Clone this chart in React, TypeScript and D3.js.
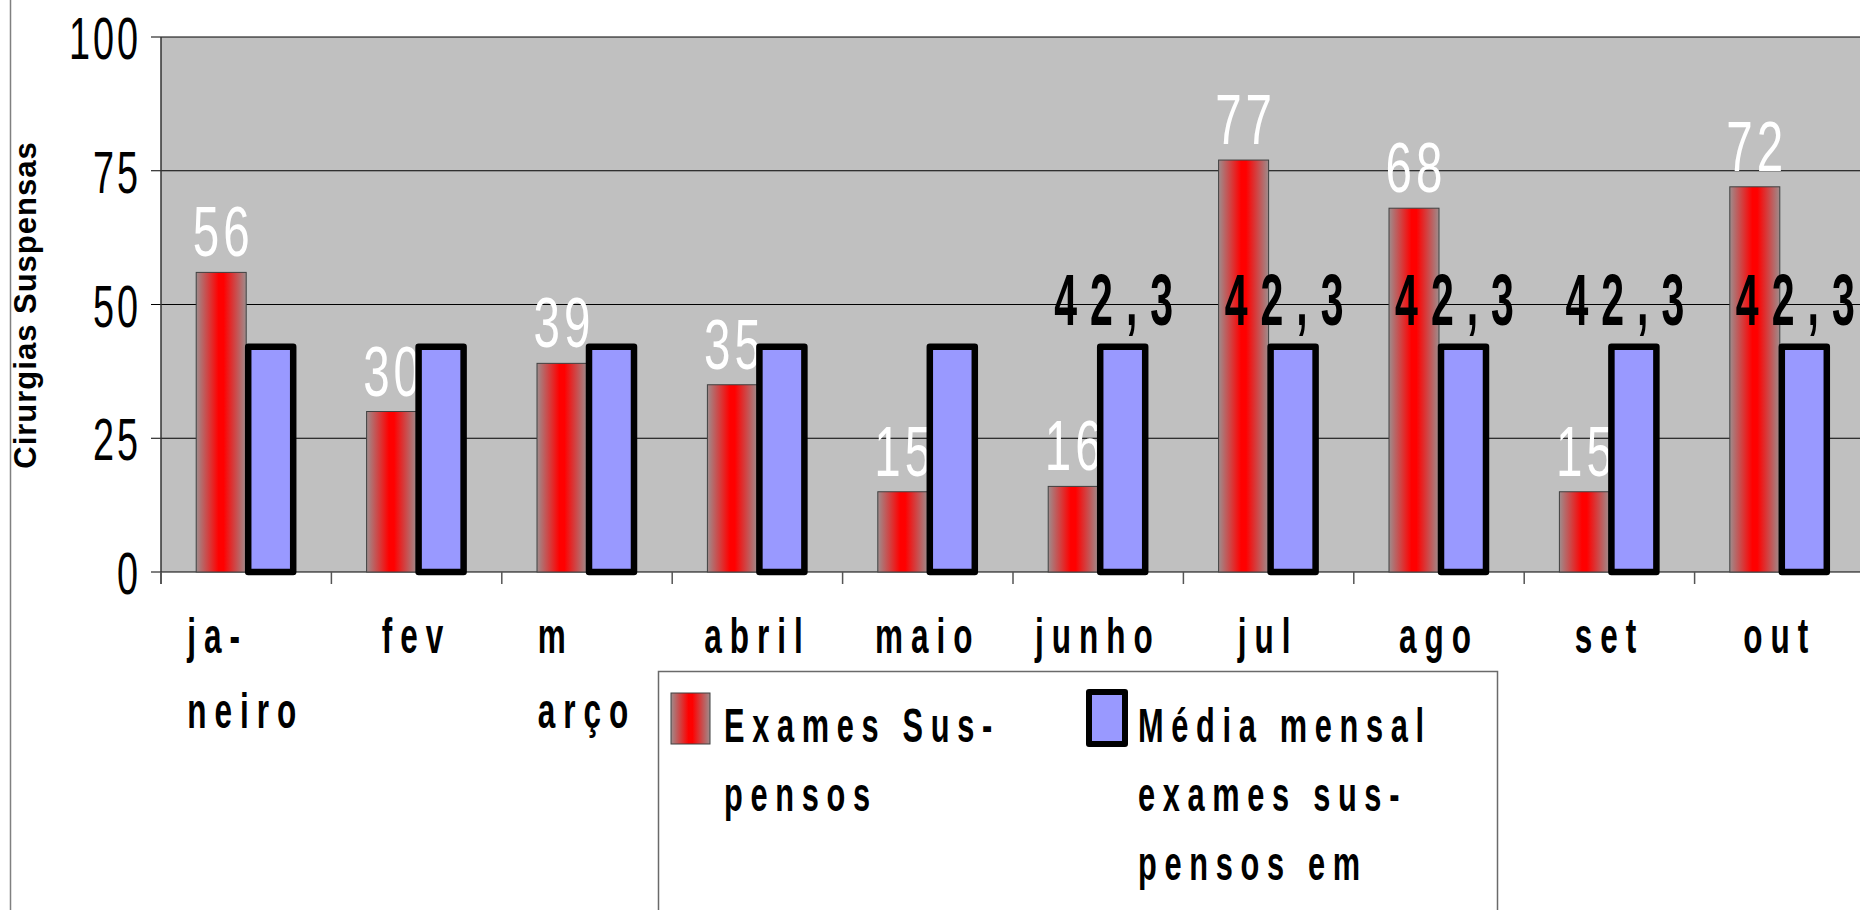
import { useLayoutEffect, useRef, useState } from "react";
import * as d3 from "d3";

const W = 1860;
const H = 910;
const PLOT = { left: 161, top: 37, bottom: 572, band: 170.4 };

// data
const months = ["jan", "fev", "mar", "abr", "mai", "jun", "jul", "ago", "set", "out"];
const monthLines = [["ja-", "neiro"], ["fev"], ["m", "arço"], ["abril"], ["maio"], ["junho"], ["jul"], ["ago"], ["set"], ["out"]];
const examesSuspensos = [56, 30, 39, 35, 15, 16, 77, 68, 15, 72];
const mediaMensal = [42.3, 42.3, 42.3, 42.3, 42.3, 42.3, 42.3, 42.3, 42.3, 42.3];
const mediaLabels = ["", "", "", "", "", "42,3", "42,3", "42,3", "42,3", "42,3"];
const yTicks = [0, 25, 50, 75, 100];
const seriesNames = ["Exames Suspensos", "Média mensal"];
const legendRed = ["Exames Sus-", "pensos"];
const legendBlue = ["Média mensal", "exames sus-", "pensos em"];

const FONT = "'Liberation Sans', Arial, sans-serif";

// condensed text: scale horizontally, spacing given in screen px
const CText = ({ x, y, s, size, bold = false, ls = 0, fill = "#000", anchor = "start", children }: any) => (
  <g transform={`translate(${x},${y}) scale(${s},1)`}>
    <text
      textAnchor={anchor}
      fontFamily={FONT}
      fontSize={size}
      fontWeight={bold ? "bold" : "normal"}
      letterSpacing={ls / s}
      fill={fill}
    >
      {children}
    </text>
  </g>
);

// multi-line category label: block centered on band, lines left aligned
const XLabel = ({ cx, lines }: { cx: number; lines: string[] }) => {
  const ref = useRef<SVGGElement>(null);
  const [w, setW] = useState(0);
  useLayoutEffect(() => {
    if (ref.current) setW(ref.current.getBBox().width);
  }, []);
  return (
    <g ref={ref} transform={`translate(${cx - w / 2},0)`} opacity={w ? 1 : 0}>
      {lines.map((l, i) => (
        <CText key={i} x={0} y={653 + i * 75} s={0.63} size={50} bold ls={8}>
          {l}
        </CText>
      ))}
    </g>
  );
};

export default function App() {
  const x = d3
    .scaleBand()
    .domain(months)
    .range([PLOT.left, PLOT.left + PLOT.band * months.length]);
  const xSub = d3.scaleBand().domain(seriesNames).range([35.2, 135.2]);
  const y = d3.scaleLinear().domain([0, 100]).range([PLOT.bottom, PLOT.top]);

  const bw = xSub.bandwidth();
  const ticksX = d3.range(months.length + 1).map((i) => PLOT.left + i * x.bandwidth());

  return (
    <div style={{ position: "fixed", left: 0, top: 0 }}>
      <svg width={W} height={H} style={{ display: "block", background: "#fff" }}>
        <defs>
          <linearGradient id="redGrad" x1="0" x2="1" y1="0" y2="0">
            <stop offset="0%" stopColor="#9e8c8c" />
            <stop offset="45%" stopColor="#ff0000" />
            <stop offset="55%" stopColor="#ff0000" />
            <stop offset="100%" stopColor="#9e8c8c" />
          </linearGradient>
        </defs>

        <line x1={10.5} x2={10.5} y1={0} y2={H} stroke="#808080" strokeWidth={1.5} />

        {/* plot area */}
        <rect x={PLOT.left} y={PLOT.top} width={W - PLOT.left} height={PLOT.bottom - PLOT.top} fill="#c0c0c0" />

        {yTicks.map((t) => (
          <g key={t}>
            <line x1={PLOT.left - 10} x2={W} y1={y(t)} y2={y(t)} stroke="#000" strokeWidth={1} />
            <CText x={141} y={y(t) + 22} s={0.63} size={60} ls={3} anchor="end">
              {t}
            </CText>
          </g>
        ))}
        <line x1={PLOT.left} x2={PLOT.left} y1={PLOT.top} y2={PLOT.bottom + 12} stroke="#333" strokeWidth={1.5} />
        {ticksX.map((tx, i) => (
          <line key={i} x1={tx} x2={tx} y1={PLOT.bottom} y2={PLOT.bottom + 12} stroke="#555" strokeWidth={1.5} />
        ))}

        {/* red bars */}
        {months.map((m, i) => (
          <rect
            key={m}
            x={x(m)! + xSub(seriesNames[0])!}
            y={y(examesSuspensos[i])}
            width={bw}
            height={y(0) - y(examesSuspensos[i])}
            fill="url(#redGrad)"
            stroke="#404040"
            strokeWidth={1}
          />
        ))}
        {months.map((m, i) => (
          <CText
            key={m}
            x={x(m)! + xSub(seriesNames[0])! + bw / 2 + 2}
            y={y(examesSuspensos[i]) - 16}
            s={0.68}
            size={70}
            ls={4}
            fill="#fff"
            anchor="middle"
          >
            {examesSuspensos[i]}
          </CText>
        ))}

        {/* blue bars */}
        {months.map((m, i) => (
          <rect
            key={m}
            x={x(m)! + xSub(seriesNames[1])! + 2}
            y={y(mediaMensal[i]) + 1}
            width={bw - 5}
            height={y(0) - y(mediaMensal[i]) - 1}
            fill="#9999ff"
            stroke="#000"
            strokeWidth={6.5}
            strokeLinejoin="round"
          />
        ))}
        {months.map((m, i) =>
          mediaLabels[i] ? (
            <CText
              key={m}
              x={x(m)! + xSub(seriesNames[1])! + bw / 2 - 3}
              y={y(mediaMensal[i]) - 21}
              s={0.57}
              size={72}
              bold
              ls={13}
              anchor="middle"
            >
              {mediaLabels[i]}
            </CText>
          ) : null
        )}

        {/* category labels */}
        {months.map((m, i) => (
          <XLabel key={m} cx={x(m)! + x.bandwidth() / 2} lines={monthLines[i]} />
        ))}

        {/* y axis title */}
        <text
          transform="translate(36,305) rotate(-90)"
          textAnchor="middle"
          fontFamily={FONT}
          fontSize={31}
          fontWeight="bold"
          letterSpacing={1}
        >
          Cirurgias Suspensas
        </text>

        {/* legend */}
        <rect x={658.5} y={671.5} width={839} height={300} fill="#fff" stroke="#6a6a6a" strokeWidth={1.5} />
        <rect x={671} y={693} width={39} height={51} fill="url(#redGrad)" stroke="#404040" strokeWidth={1} />
        <rect x={1089} y={692} width={36} height={52} fill="#9999ff" stroke="#000" strokeWidth={6} strokeLinejoin="round" />
        {legendRed.map((l, i) => (
          <CText key={l} x={724} y={742 + i * 69} s={0.64} size={48} bold ls={7.7}>
            {l}
          </CText>
        ))}
        {legendBlue.map((l, i) => (
          <CText key={l} x={1138} y={742 + i * 69} s={0.64} size={48} bold ls={7.7}>
            {l}
          </CText>
        ))}
      </svg>
    </div>
  );
}
